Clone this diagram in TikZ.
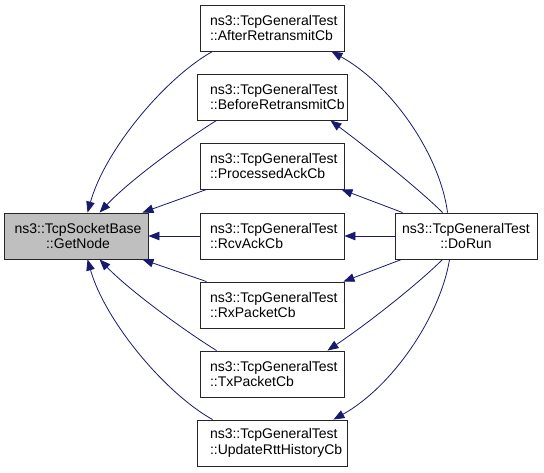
\documentclass[tikz,border=0pt]{standalone}
\usepackage{fontspec}
\setmainfont{Liberation Sans}
\usetikzlibrary{arrows.meta}
\definecolor{edgeblue}{HTML}{191970}
\definecolor{hlgray}{HTML}{BFBFBF}
\begin{document}
\begin{tikzpicture}[x=1pt,y=-1pt,
  box/.style={draw=black!85, line width=0.9pt, minimum height=46pt, inner ysep=0pt, font=\fontsize{14}{15.5}\selectfont},
  lbox/.style={box, align=left, text width=124pt, inner xsep=10pt},
  wbox/.style={box, align=left, text width=124pt, inner xsep=13pt},
  cbox/.style={box, align=center, inner xsep=0pt},
  edge/.style={draw=edgeblue, line width=0.8pt, -{Triangle[length=11pt,width=8.5pt]}}
]
\useasboundingbox (0,0) rectangle (544,472);

\node[cbox, fill=hlgray, minimum width=144pt] (getnode) at (76,236) {\hspace*{4pt}ns3::TcpSocketBase\\\hspace*{4pt}::GetNode};
\node[lbox] (after) at (272,28) {ns3::TcpGeneralTest\\::AfterRetransmitCb};
\node[wbox] (before) at (272,97) {ns3::TcpGeneralTest\\::BeforeRetransmitCb};
\node[lbox] (processed) at (272,166) {ns3::TcpGeneralTest\\::ProcessedAckCb};
\node[lbox] (rcvack) at (272,236) {ns3::TcpGeneralTest\\::RcvAckCb};
\node[lbox] (rx) at (272,305) {ns3::TcpGeneralTest\\::RxPacketCb};
\node[lbox] (tx) at (272,374) {ns3::TcpGeneralTest\\::TxPacketCb};
\node[wbox] (update) at (272,443) {ns3::TcpGeneralTest\\::UpdateRttHistoryCb};
\node[cbox, minimum width=142pt] (dorun) at (466,236) {ns3::TcpGeneralTest\\::DoRun};

% edges into GetNode
\draw[edge] ([xshift=13pt]after.south west) .. controls (165,78) and (105,150) .. ([xshift=84pt]getnode.north west);
\draw[edge] ([xshift=20pt]before.south west) .. controls (185,140) and (130,180) .. ([xshift=96pt]getnode.north west);
\draw[edge] ([xshift=7pt]processed.south west) -- ([xshift=-6pt]getnode.north east);
\draw[edge] (rcvack.west) -- (getnode.east);
\draw[edge] ([xshift=7pt]rx.north west) -- ([xshift=-6pt]getnode.south east);
\draw[edge] ([xshift=17pt]tx.north west) .. controls (185,331) and (130,291) .. ([xshift=96pt]getnode.south west);
\draw[edge] ([xshift=16pt]update.north west) .. controls (165,393) and (105,321) .. ([xshift=84pt]getnode.south west);

% edges from DoRun
\draw[edge] ([xshift=53pt]dorun.north west) .. controls (440,155) and (392,85) .. ([xshift=-13pt]after.south east);
\draw[edge] ([xshift=48pt]dorun.north west) .. controls (420,190) and (370,150) .. ([xshift=-17pt]before.south east);
\draw[edge] ([xshift=8pt]dorun.north west) -- ([xshift=-3pt]processed.south east);
\draw[edge] (dorun.west) -- (rcvack.east);
\draw[edge] ([xshift=7pt]dorun.south west) -- ([xshift=-1pt]rx.north east);
\draw[edge] ([xshift=48pt]dorun.south west) .. controls (420,282) and (370,322) .. ([xshift=-17pt]tx.north east);
\draw[edge] ([xshift=55pt]dorun.south west) .. controls (440,317) and (392,387) .. ([xshift=-14pt]update.north east);
\end{tikzpicture}
\end{document}
